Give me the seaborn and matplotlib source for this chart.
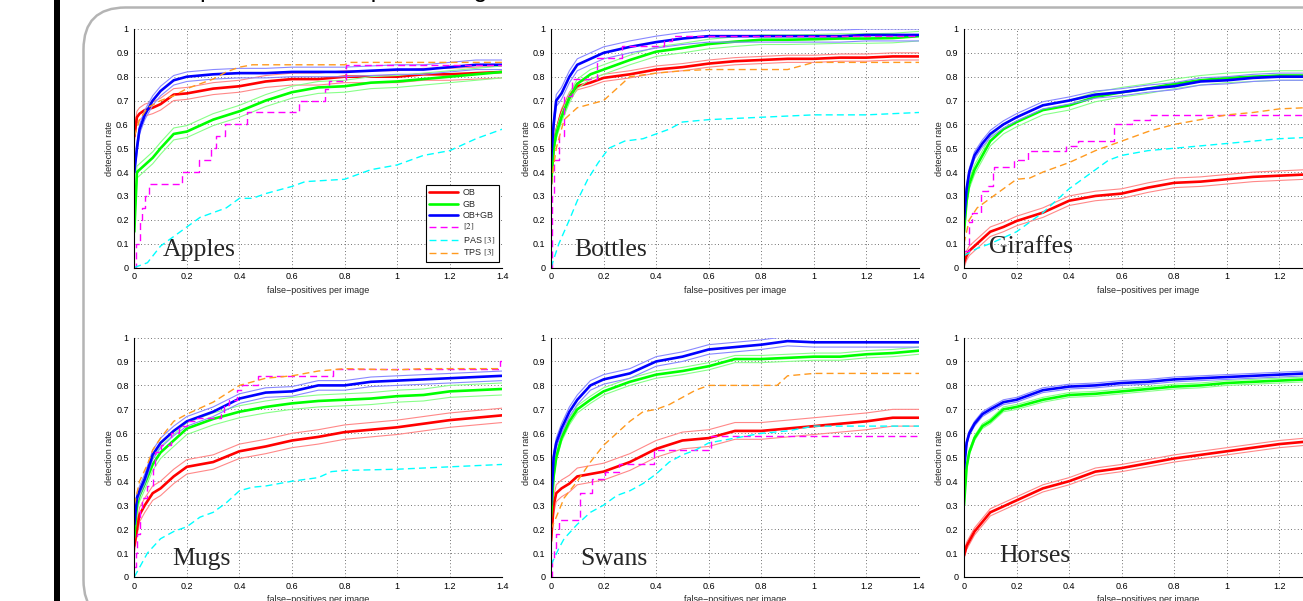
import numpy as np
import matplotlib
matplotlib.use("Agg")
import matplotlib.pyplot as plt
import seaborn as sns
from matplotlib.patches import Rectangle, FancyBboxPatch
from matplotlib.lines import Line2D

# common x positions (false-positives per image) for the OB / GB / OB+GB curves
X_GRID = [0, 0.01, 0.02, 0.04, 0.07, 0.1, 0.15, 0.2, 0.3, 0.4, 0.5, 0.6, 0.7, 0.8, 0.9, 1.0, 1.1, 1.2, 1.3, 1.4]

# ---- Apples
APPLES_OB = [0.55, 0.63, 0.645, 0.66, 0.67, 0.685, 0.725, 0.73, 0.75, 0.76, 0.78, 0.79, 0.79, 0.80, 0.80, 0.80, 0.81, 0.81, 0.815, 0.82]
APPLES_GB = [0.15, 0.40, 0.41, 0.43, 0.46, 0.50, 0.56, 0.57, 0.62, 0.655, 0.70, 0.735, 0.755, 0.76, 0.775, 0.78, 0.79, 0.80, 0.81, 0.82]
APPLES_OBGB = [0.40, 0.50, 0.58, 0.64, 0.70, 0.74, 0.785, 0.80, 0.81, 0.815, 0.815, 0.82, 0.82, 0.82, 0.825, 0.83, 0.83, 0.84, 0.85, 0.85]
APPLES_BAND = [0.025, 0.025, 0.02]
APPLES_REF2_X = [0, 0.005, 0.02, 0.03, 0.04, 0.055, 0.18, 0.245, 0.29, 0.31, 0.345, 0.43, 0.625, 0.726, 0.74, 0.806, 1.4]
APPLES_REF2_Y = [0, 0.10, 0.20, 0.25, 0.30, 0.35, 0.40, 0.45, 0.50, 0.55, 0.60, 0.65, 0.70, 0.75, 0.78, 0.85, 0.85]
APPLES_PAS_X = [0, 0.05, 0.1, 0.15, 0.2, 0.25, 0.3, 0.35, 0.4, 0.45, 0.5, 0.6, 0.65, 0.8, 0.9, 1.0, 1.1, 1.2, 1.3, 1.4]
APPLES_PAS_Y = [0, 0.02, 0.09, 0.13, 0.17, 0.21, 0.23, 0.25, 0.29, 0.29, 0.31, 0.34, 0.36, 0.37, 0.41, 0.43, 0.47, 0.49, 0.54, 0.58]
APPLES_TPS_X = [0, 0.02, 0.05, 0.1, 0.15, 0.2, 0.25, 0.3, 0.35, 0.4, 0.45, 0.8, 0.82, 1.4]
APPLES_TPS_Y = [0.55, 0.62, 0.67, 0.70, 0.72, 0.75, 0.77, 0.79, 0.82, 0.84, 0.85, 0.85, 0.86, 0.86]

# ---- Bottles
BOTTLES_OB = [0.35, 0.50, 0.57, 0.65, 0.72, 0.76, 0.775, 0.795, 0.81, 0.83, 0.84, 0.855, 0.865, 0.87, 0.875, 0.875, 0.88, 0.88, 0.885, 0.885]
BOTTLES_GB = [0.35, 0.50, 0.56, 0.63, 0.71, 0.77, 0.81, 0.83, 0.87, 0.905, 0.92, 0.937, 0.947, 0.955, 0.955, 0.957, 0.96, 0.96, 0.962, 0.97]
BOTTLES_OBGB = [0.45, 0.60, 0.70, 0.73, 0.80, 0.85, 0.875, 0.90, 0.925, 0.945, 0.96, 0.97, 0.97, 0.97, 0.97, 0.97, 0.97, 0.975, 0.975, 0.975]
BOTTLES_BAND = [0.015, 0.02, 0.025]
BOTTLES_REF2_X = [0, 0.003, 0.01, 0.03, 0.05, 0.08, 0.174, 0.27, 0.43, 0.46, 1.4]
BOTTLES_REF2_Y = [0, 0.30, 0.45, 0.55, 0.72, 0.79, 0.88, 0.93, 0.95, 0.97, 0.97]
BOTTLES_PAS_X = [0, 0.03, 0.07, 0.1, 0.14, 0.18, 0.22, 0.28, 0.35, 0.4, 0.45, 0.5, 0.6, 0.8, 1.0, 1.2, 1.4]
BOTTLES_PAS_Y = [0, 0.10, 0.20, 0.28, 0.37, 0.44, 0.50, 0.53, 0.54, 0.56, 0.58, 0.61, 0.62, 0.63, 0.64, 0.64, 0.65]
BOTTLES_TPS_X = [0, 0.02, 0.05, 0.1, 0.2, 0.25, 0.3, 0.4, 0.5, 0.6, 0.9, 1.0, 1.4]
BOTTLES_TPS_Y = [0.35, 0.50, 0.62, 0.67, 0.70, 0.75, 0.80, 0.815, 0.825, 0.83, 0.83, 0.86, 0.86]

# ---- Giraffes
GIRAFFES_OB = [0.02, 0.05, 0.07, 0.09, 0.12, 0.15, 0.17, 0.195, 0.23, 0.28, 0.30, 0.31, 0.335, 0.355, 0.36, 0.37, 0.38, 0.385, 0.39, 0.40]
GIRAFFES_GB = [0.15, 0.28, 0.35, 0.41, 0.47, 0.53, 0.58, 0.61, 0.66, 0.68, 0.715, 0.735, 0.75, 0.77, 0.785, 0.795, 0.80, 0.805, 0.805, 0.81]
GIRAFFES_OBGB = [0.20, 0.33, 0.40, 0.47, 0.52, 0.56, 0.60, 0.63, 0.68, 0.70, 0.725, 0.735, 0.75, 0.76, 0.78, 0.785, 0.795, 0.80, 0.80, 0.80]
GIRAFFES_BAND = [0.02, 0.02, 0.015]
GIRAFFES_REF2_X = [0, 0.018, 0.032, 0.065, 0.091, 0.109, 0.115, 0.19, 0.245, 0.387, 0.434, 0.57, 0.641, 0.706, 1.4]
GIRAFFES_REF2_Y = [0.07, 0.19, 0.23, 0.32, 0.34, 0.40, 0.42, 0.45, 0.49, 0.51, 0.53, 0.60, 0.62, 0.64, 0.64]
GIRAFFES_PAS_X = [0, 0.05, 0.1, 0.2, 0.3, 0.35, 0.4, 0.45, 0.5, 0.55, 0.6, 0.7, 0.8, 1.0, 1.2, 1.4]
GIRAFFES_PAS_Y = [0.05, 0.08, 0.10, 0.15, 0.23, 0.28, 0.33, 0.37, 0.41, 0.45, 0.47, 0.49, 0.50, 0.52, 0.54, 0.55]
GIRAFFES_TPS_X = [0, 0.02, 0.05, 0.1, 0.15, 0.2, 0.25, 0.3, 0.4, 0.5, 0.6, 0.7, 0.8, 0.9, 1.0, 1.1, 1.2, 1.4]
GIRAFFES_TPS_Y = [0.10, 0.20, 0.25, 0.29, 0.33, 0.37, 0.375, 0.40, 0.44, 0.49, 0.53, 0.57, 0.60, 0.62, 0.64, 0.65, 0.665, 0.675]

# ---- Mugs
MUGS_OB = [0.13, 0.20, 0.26, 0.30, 0.35, 0.37, 0.42, 0.46, 0.48, 0.525, 0.545, 0.57, 0.585, 0.605, 0.615, 0.625, 0.64, 0.655, 0.665, 0.675]
MUGS_GB = [0.17, 0.30, 0.34, 0.39, 0.47, 0.52, 0.57, 0.62, 0.66, 0.69, 0.71, 0.725, 0.735, 0.74, 0.745, 0.755, 0.76, 0.775, 0.78, 0.785]
MUGS_OBGB = [0.22, 0.33, 0.36, 0.41, 0.51, 0.56, 0.61, 0.65, 0.69, 0.745, 0.77, 0.775, 0.80, 0.80, 0.815, 0.82, 0.825, 0.83, 0.835, 0.84]
MUGS_BAND = [0.03, 0.025, 0.02]
MUGS_REF2_X = [0, 0.005, 0.01, 0.02, 0.03, 0.05, 0.07, 0.08, 0.10, 0.14, 0.17, 0.20, 0.24, 0.33, 0.34, 0.36, 0.39, 0.41, 0.47, 0.757, 1.39, 1.4]
MUGS_REF2_Y = [0.04, 0.10, 0.18, 0.28, 0.33, 0.38, 0.45, 0.52, 0.55, 0.60, 0.63, 0.65, 0.665, 0.68, 0.72, 0.74, 0.78, 0.80, 0.84, 0.87, 0.90, 0.90]
MUGS_PAS_X = [0, 0.05, 0.1, 0.15, 0.2, 0.25, 0.3, 0.35, 0.4, 0.45, 0.5, 0.6, 0.7, 0.75, 0.8, 1.0, 1.2, 1.4]
MUGS_PAS_Y = [0, 0.10, 0.16, 0.19, 0.21, 0.25, 0.27, 0.31, 0.36, 0.375, 0.38, 0.40, 0.415, 0.44, 0.445, 0.45, 0.46, 0.47]
MUGS_TPS_X = [0, 0.02, 0.05, 0.07, 0.1, 0.15, 0.2, 0.3, 0.4, 0.5, 0.6, 0.7, 0.8, 1.0, 1.1, 1.4]
MUGS_TPS_Y = [0.30, 0.40, 0.47, 0.53, 0.58, 0.65, 0.68, 0.73, 0.80, 0.83, 0.84, 0.86, 0.87, 0.865, 0.87, 0.87]

# ---- Swans
SWANS_OB = [0.15, 0.30, 0.35, 0.37, 0.39, 0.42, 0.43, 0.44, 0.48, 0.535, 0.57, 0.58, 0.61, 0.61, 0.62, 0.63, 0.64, 0.65, 0.665, 0.665]
SWANS_GB = [0.25, 0.42, 0.50, 0.58, 0.65, 0.70, 0.74, 0.775, 0.815, 0.845, 0.86, 0.88, 0.91, 0.91, 0.915, 0.92, 0.92, 0.93, 0.935, 0.945]
SWANS_OBGB = [0.30, 0.50, 0.56, 0.62, 0.69, 0.74, 0.80, 0.825, 0.85, 0.90, 0.92, 0.95, 0.96, 0.97, 0.985, 0.98, 0.98, 0.98, 0.98, 0.98]
SWANS_BAND = [0.035, 0.015, 0.02]
SWANS_REF2_X = [0, 0.004, 0.01, 0.02, 0.032, 0.11, 0.155, 0.205, 0.26, 0.39, 0.61, 1.4]
SWANS_REF2_Y = [0.0, 0.07, 0.12, 0.18, 0.24, 0.35, 0.41, 0.44, 0.47, 0.53, 0.59, 0.59]
SWANS_PAS_X = [0, 0.03, 0.05, 0.1, 0.15, 0.2, 0.25, 0.3, 0.35, 0.4, 0.45, 0.5, 0.55, 0.6, 0.7, 0.8, 0.9, 1.0, 1.2, 1.4]
SWANS_PAS_Y = [0.05, 0.12, 0.16, 0.22, 0.27, 0.30, 0.34, 0.36, 0.39, 0.43, 0.48, 0.51, 0.53, 0.56, 0.58, 0.60, 0.61, 0.63, 0.63, 0.63]
SWANS_TPS_X = [0, 0.02, 0.05, 0.1, 0.15, 0.2, 0.25, 0.3, 0.35, 0.4, 0.45, 0.5, 0.55, 0.6, 0.86, 0.9, 1.0, 1.4]
SWANS_TPS_Y = [0.20, 0.25, 0.33, 0.40, 0.48, 0.55, 0.60, 0.65, 0.69, 0.70, 0.72, 0.75, 0.78, 0.80, 0.80, 0.84, 0.85, 0.85]

# ---- Horses (no competing methods)
HORSES_OB = [0.09, 0.13, 0.15, 0.19, 0.23, 0.27, 0.295, 0.32, 0.37, 0.40, 0.44, 0.455, 0.475, 0.495, 0.51, 0.525, 0.54, 0.555, 0.565, 0.575]
HORSES_GB = [0.30, 0.46, 0.52, 0.58, 0.63, 0.65, 0.70, 0.71, 0.74, 0.76, 0.765, 0.775, 0.785, 0.795, 0.80, 0.81, 0.815, 0.82, 0.825, 0.825]
HORSES_OBGB = [0.45, 0.56, 0.60, 0.64, 0.68, 0.70, 0.73, 0.74, 0.78, 0.795, 0.80, 0.81, 0.815, 0.825, 0.83, 0.835, 0.84, 0.845, 0.85, 0.85]
HORSES_BAND = [0.015, 0.01, 0.01]

NAMES = ["Apples", "Bottles", "Giraffes", "Mugs", "Swans", "Horses"]
NAME_POS = [(0.11, 0.05), (0.089, 0.05), (0.097, 0.06), (0.146, 0.049), (0.11, 0.05), (0.133, 0.064)]
XTICKS = [0, 0.2, 0.4, 0.6, 0.8, 1.0, 1.2, 1.4]
XTICK_LABELS = ["0", "0.2", "0.4", "0.6", "0.8", "1", "1.2", "1.4"]
YTICKS = [0, 0.1, 0.2, 0.3, 0.4, 0.5, 0.6, 0.7, 0.8, 0.9, 1.0]
YTICK_LABELS = ["0", "0.1", "0.2", "0.3", "0.4", "0.5", "0.6", "0.7", "0.8", "0.9", "1"]
LEGEND_LABELS = ["OB", "GB", "OB+GB", r"$\mathrm{[2]}$", r"PAS $\mathrm{[3]}$", r"TPS $\mathrm{[3]}$"]

MAIN_COLORS = ["#ff0000", "#00ff00", "#0000ff"]
BAND_COLORS = ["#ff8888", "#88ff88", "#8888ff"]
DASH_COLORS = ["#ff00ff", "#00ffff", "#ff9a1f"]

sns.set_style("white")
plt.rcParams["font.family"] = ["Liberation Sans", "DejaVu Sans"]
plt.rcParams["mathtext.fontset"] = "stix"

fig = plt.figure(figsize=(13.03, 6.01), dpi=100)

# slide decoration: black bar, rounded frame, title mostly above the visible area
fig.add_artist(Rectangle((54 / 1303, 0), 6 / 1303, 1, transform=fig.transFigure,
                         facecolor="black", edgecolor="none"))
fig.add_artist(FancyBboxPatch((0.835, -0.21), 14, 6.145,
                              boxstyle="round,pad=0,rounding_size=0.42",
                              transform=fig.dpi_scale_trans, facecolor="none",
                              edgecolor="#b4b4b4", linewidth=1.8))
fig.text(171 / 1303, 1 + 2.5 / 601, "Experimental comparison against baselines",
         fontsize=18, ha="left", va="baseline", color="black")

W, H = 1303, 601
rects = []
for top_px, bot_px in [(29, 267.5), (337.5, 577)]:
    for left_px in [134.3, 551, 964]:
        rects.append([left_px / W, 1 - bot_px / H, 368 / W, (bot_px - top_px) / H])

panels = [
    (APPLES_OB, APPLES_GB, APPLES_OBGB, APPLES_BAND,
     [(APPLES_REF2_X, APPLES_REF2_Y), (APPLES_PAS_X, APPLES_PAS_Y), (APPLES_TPS_X, APPLES_TPS_Y)]),
    (BOTTLES_OB, BOTTLES_GB, BOTTLES_OBGB, BOTTLES_BAND,
     [(BOTTLES_REF2_X, BOTTLES_REF2_Y), (BOTTLES_PAS_X, BOTTLES_PAS_Y), (BOTTLES_TPS_X, BOTTLES_TPS_Y)]),
    (GIRAFFES_OB, GIRAFFES_GB, GIRAFFES_OBGB, GIRAFFES_BAND,
     [(GIRAFFES_REF2_X, GIRAFFES_REF2_Y), (GIRAFFES_PAS_X, GIRAFFES_PAS_Y), (GIRAFFES_TPS_X, GIRAFFES_TPS_Y)]),
    (MUGS_OB, MUGS_GB, MUGS_OBGB, MUGS_BAND,
     [(MUGS_REF2_X, MUGS_REF2_Y), (MUGS_PAS_X, MUGS_PAS_Y), (MUGS_TPS_X, MUGS_TPS_Y)]),
    (SWANS_OB, SWANS_GB, SWANS_OBGB, SWANS_BAND,
     [(SWANS_REF2_X, SWANS_REF2_Y), (SWANS_PAS_X, SWANS_PAS_Y), (SWANS_TPS_X, SWANS_TPS_Y)]),
    (HORSES_OB, HORSES_GB, HORSES_OBGB, HORSES_BAND, []),
]

for i, (ob, gb, obgb, band, others) in enumerate(panels):
    ax = fig.add_axes(rects[i])
    ax.set_xlim(0, 1.4)
    ax.set_ylim(0, 1)

    # our methods: thin band lines, then the thick mean curve
    for ys, hw, c, cb in zip([ob, gb, obgb], band, MAIN_COLORS, BAND_COLORS):
        ys = np.array(ys)
        for off in (hw, -hw):
            sns.lineplot(x=X_GRID, y=ys + off, ax=ax, color=cb, linewidth=0.8,
                         estimator=None, sort=False)
        sns.lineplot(x=X_GRID, y=ys, ax=ax, color=c, linewidth=1.9,
                     estimator=None, sort=False)

    # competing methods, dashed
    for j, (xs, ys) in enumerate(others):
        sns.lineplot(x=xs, y=ys, ax=ax, color=DASH_COLORS[j], linewidth=1.0,
                     linestyle=(0, (5, 3)), estimator=None, sort=False,
                     drawstyle="steps-post" if j == 0 else "default")

    ax.set_xticks(XTICKS)
    ax.set_xticklabels(XTICK_LABELS)
    ax.set_yticks(YTICKS)
    ax.set_yticklabels(YTICK_LABELS)
    ax.tick_params(direction="in", length=3, width=0.6, labelsize=6.5, colors="black")
    ax.tick_params(axis="x", pad=3.5)
    ax.tick_params(axis="y", pad=4)
    ax.grid(True, color="#444444", linestyle=(0, (1, 3)), linewidth=0.6)
    ax.set_axisbelow(True)
    for s in ["top", "right"]:
        ax.spines[s].set_visible(False)
    for s in ["left", "bottom"]:
        ax.spines[s].set_color("black")
        ax.spines[s].set_linewidth(0.8)
    ax.set_xlabel("false\u2212positives per image", fontsize=6.5, labelpad=3)
    ax.set_ylabel("detection rate", fontsize=6.5, labelpad=1.5)

    nx, ny = NAME_POS[i]
    ax.text(nx, ny, NAMES[i], fontsize=18.5, va="baseline", ha="left",
            family=["Liberation Serif", "DejaVu Serif"])

    if i == 0:
        handles = [Line2D([], [], color=c, lw=1.9) for c in MAIN_COLORS]
        handles += [Line2D([], [], color=c, lw=1.0, linestyle=(0, (5, 3))) for c in DASH_COLORS]
        leg = ax.legend(handles, LEGEND_LABELS, loc="lower right",
                        bbox_to_anchor=(0.99, 0.023), borderaxespad=0, fontsize=6.5,
                        handlelength=3.2, handletextpad=0.5, labelspacing=0.25,
                        borderpad=0.4, fancybox=False, framealpha=1, edgecolor="black")
        leg.get_frame().set_linewidth(0.8)

fig.savefig("out.png", dpi=100)
